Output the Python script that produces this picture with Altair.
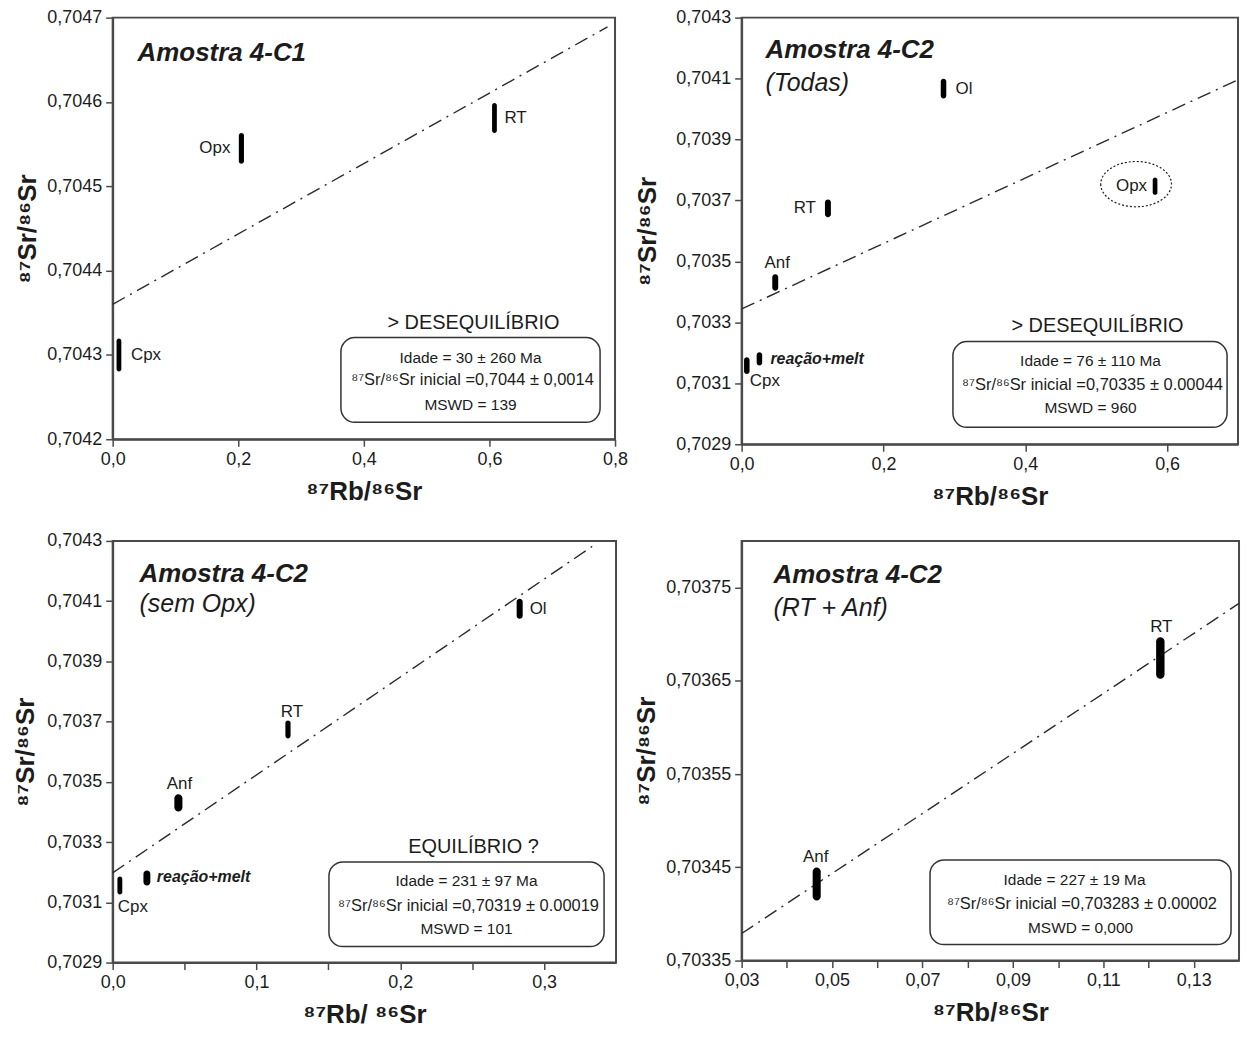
import altair as alt
import pandas as pd

FONT = "Liberation Sans"
AXC = "#4a4a4a"
INK = "#1c1c1c"

# ---------------- data ----------------
# Panel A: Amostra 4-C1
a_names = ["Cpx", "Opx", "RT"]
a_rb = [0.010, 0.205, 0.608]
a_sr = [0.70430, 0.704545, 0.704581]
a_rb_err = [0.0038, 0.0041, 0.0038]
a_sr_err = [0.0000195, 0.0000183, 0.0000177]
a_line_rb = [0.0, 0.788]
a_line_sr = [0.70436, 0.704689]
a_xticks = [0.0, 0.2, 0.4, 0.6, 0.8]
a_yticks = [0.7042, 0.7043, 0.7044, 0.7045, 0.7046, 0.7047]

# Panel B: Amostra 4-C2 (Todas)
b_names = ["Ol", "Opx", "RT", "Anf", "reação+melt", "Cpx"]
b_rb = [0.2847, 0.583, 0.1217, 0.0474, 0.0251, 0.0073]
b_sr = [0.704067, 0.703747, 0.703674, 0.703431, 0.703180, 0.703158]
b_rb_err = [0.0039, 0.0033, 0.0042, 0.0042, 0.0039, 0.0039]
b_sr_err = [0.0000327, 0.0000285, 0.0000294, 0.0000272, 0.0000219, 0.0000272]
b_line_rb = [0.0, 0.7]
b_line_sr = [0.703344, 0.704096]
b_xticks = [0.0, 0.2, 0.4, 0.6]
b_yticks = [0.7029, 0.7031, 0.7033, 0.7035, 0.7037, 0.7039, 0.7041, 0.7043]

# Panel C: Amostra 4-C2 (sem Opx)
c_names = ["Ol", "RT", "Anf", "reação+melt", "Cpx"]
c_rb = [0.283, 0.1219, 0.0457, 0.0238, 0.0050]
c_sr = [0.704075, 0.703674, 0.703430, 0.703181, 0.703156]
c_rb_err = [0.0021, 0.0018, 0.0028, 0.0024, 0.0017]
c_sr_err = [0.0000331, 0.0000298, 0.0000288, 0.0000248, 0.0000298]
c_line_rb = [0.0, 0.335]
c_line_sr = [0.703198, 0.704287]
c_xticks = [0.0, 0.05, 0.1, 0.15, 0.2, 0.25, 0.3]
c_yticks = [0.7029, 0.7031, 0.7033, 0.7035, 0.7037, 0.7039, 0.7041, 0.7043]

# Panel D: Amostra 4-C2 (RT + Anf)
d_names = ["Anf", "RT"]
d_rb = [0.0466, 0.1226]
d_sr = [0.703432, 0.7036745]
d_rb_err = [0.00089, 0.00093]
d_sr_err = [0.0000177, 0.0000222]
d_line_rb = [0.03, 0.14]
d_line_sr = [0.703379, 0.703733]
d_xticks = [0.03, 0.04, 0.05, 0.06, 0.07, 0.08, 0.09, 0.10, 0.11, 0.12, 0.13]
d_yticks = [0.70335, 0.70345, 0.70355, 0.70365, 0.70375]

YTITLE = "⁸⁷Sr/⁸⁶Sr"
ONE = alt.Data(values=[{}])
ELLIPSE = "M -1 0 A 1 0.64 0 1 0 1 0 A 1 0.64 0 1 0 -1 0 Z"


def fmt(decimals):
    return f"replace(format(datum.value, '.{decimals}f'), '.', ',')"


def txt(s, x, y, size=15.5, weight="normal", style="normal", align="center"):
    return alt.Chart(ONE).mark_text(
        text=s, font=FONT, fontSize=size, fontWeight=weight, fontStyle=style,
        align=align, baseline="middle", color=INK
    ).encode(x=alt.value(x), y=alt.value(y))


def box(x1, x2, y1, y2):
    return alt.Chart(ONE).mark_rect(
        cornerRadius=14, fill="white", stroke="#333333", strokeWidth=1.5
    ).encode(x=alt.value(x1), x2=alt.value(x2), y=alt.value(y1), y2=alt.value(y2))


def build(names, rb, sr, rb_err, sr_err, line_rb, line_sr, xdom, ydom,
          xticks, yticks, xexpr, yexpr, xtitle, w, h, y_ext, y_pad,
          label_specs, extras_fn):
    pts = pd.DataFrame({"name": names, "rb": rb, "sr": sr,
                        "rb_err": rb_err, "sr_err": sr_err})
    line = pd.DataFrame({"rb": line_rb, "sr": line_sr})
    xs = alt.Scale(domain=xdom, nice=False, zero=False)
    ys = alt.Scale(domain=ydom, nice=False, zero=False)
    xax = alt.Axis(values=xticks, labelExpr=xexpr, title=xtitle, labelFlush=False,
                   labelOverlap=False, grid=False)
    yax = alt.Axis(values=yticks, labelExpr=yexpr, title=YTITLE, labelOverlap=False,
                   grid=False, minExtent=y_ext, maxExtent=y_ext, titlePadding=y_pad)

    def X(f):
        return alt.X(f, type="quantitative", scale=xs, axis=xax)

    def Y(f):
        return alt.Y(f, type="quantitative", scale=ys, axis=yax)

    line_layer = alt.Chart(line).mark_line(
        strokeDash=[14, 6, 2, 6], color="#2a2a2a", strokeWidth=1.4
    ).encode(x=X("rb"), y=Y("sr"))

    ell = alt.Chart(pts).transform_calculate(
        x1="datum.rb - datum.rb_err", x2="datum.rb + datum.rb_err",
        y1="datum.sr - datum.sr_err", y2="datum.sr + datum.sr_err"
    ).mark_rect(cornerRadius=40, color="black").encode(
        x=X("x1"), x2="x2:Q", y=Y("y1"), y2="y2:Q")

    labs = []
    for name, dx, dy, align, emph in label_specs:
        labs.append(
            alt.Chart(pts).transform_filter(alt.datum.name == name).mark_text(
                dx=dx, dy=dy, align=align, baseline="middle", font=FONT,
                fontSize=16 if emph else 17,
                fontStyle="italic" if emph else "normal",
                fontWeight="bold" if emph else "normal", color=INK
            ).encode(x=X("rb"), y=Y("sr"), text="name:N")
        )
    extras = extras_fn(pts, X, Y)
    return alt.layer(line_layer, ell, *labs, *extras).properties(width=w, height=h)


def extras_a(pts, X, Y):
    return [
        txt("Amostra 4-C1", 25, 36, 26, "bold", "italic", "left"),
        txt("> DESEQUILÍBRIO", 362, 306, 20),
        box(229, 489, 321, 406),
        txt("Idade = 30 ± 260 Ma", 359, 341),
        txt("⁸⁷Sr/⁸⁶Sr inicial =0,7044 ± 0,0014", 361, 364, 16.5),
        txt("MSWD = 139", 359, 389),
    ]


def extras_b(pts, X, Y):
    circ = alt.Chart(pts).transform_filter(alt.datum.name == "Opx").mark_point(
        shape=ELLIPSE, size=5041, filled=False, stroke=INK, strokeWidth=1.2,
        strokeDash=[2, 2], xOffset=-19, yOffset=-2, opacity=1
    ).encode(x=X("rb"), y=Y("sr"))
    return [
        circ,
        txt("Amostra 4-C2", 24, 33, 26, "bold", "italic", "left"),
        txt("(Todas)", 24, 66, 25, "normal", "italic", "left"),
        txt("> DESEQUILÍBRIO", 357, 309, 20),
        box(212, 487, 325, 411),
        txt("Idade = 76 ± 110 Ma", 350, 345),
        txt("⁸⁷Sr/⁸⁶Sr inicial =0,70335 ± 0.00044", 352, 369, 16.5),
        txt("MSWD = 960", 350, 392),
    ]


def extras_c(pts, X, Y):
    return [
        txt("Amostra 4-C2", 27, 33, 26, "bold", "italic", "left"),
        txt("(sem Opx)", 27, 63, 25, "normal", "italic", "left"),
        txt("EQUILÍBRIO ?", 362, 307, 20),
        box(217, 493, 322, 407),
        txt("Idade = 231 ± 97 Ma", 355, 341),
        txt("⁸⁷Sr/⁸⁶Sr inicial =0,70319 ± 0.00019", 357, 366, 16.5),
        txt("MSWD = 101", 355, 389),
    ]


def extras_d(pts, X, Y):
    return [
        txt("Amostra 4-C2", 32, 34, 26, "bold", "italic", "left"),
        txt("(RT + Anf)", 32, 67, 25, "normal", "italic", "left"),
        box(189, 491, 320, 405),
        txt("Idade = 227 ± 19 Ma", 334, 340),
        txt("⁸⁷Sr/⁸⁶Sr inicial =0,703283 ± 0.00002", 206, 364, 16.5, align="left"),
        txt("MSWD = 0,000", 340, 388),
    ]


pA = build(a_names, a_rb, a_sr, a_rb_err, a_sr_err, a_line_rb, a_line_sr,
           [0.0, 0.8], [0.7042, 0.7047], a_xticks, a_yticks, fmt(1), fmt(4),
           "⁸⁷Rb/⁸⁶Sr", 504, 423, 62, 10,
           [("Cpx", 12, 0, "left", False), ("Opx", -11, 0, "right", False),
            ("RT", 10, 0, "left", False)], extras_a)

pB = build(b_names, b_rb, b_sr, b_rb_err, b_sr_err, b_line_rb, b_line_sr,
           [0.0, 0.7], [0.7029, 0.7043], b_xticks, b_yticks, fmt(1), fmt(4),
           "⁸⁷Rb/⁸⁶Sr", 498, 428, 62, 19,
           [("Ol", 12, 0, "left", False), ("Opx", -8, 0, "right", False),
            ("RT", -12, 0, "right", False), ("Anf", 2, -19, "center", False),
            ("reação+melt", 11, 0, "left", True), ("Cpx", 3, 15, "left", False)],
           extras_b)

c_xexpr = ("abs(datum.value*10 - round(datum.value*10)) < 0.001 ? "
           + fmt(1) + " : ''")
pC = build(c_names, c_rb, c_sr, c_rb_err, c_sr_err, c_line_rb, c_line_sr,
           [0.0, 0.35], [0.7029, 0.7043], c_xticks, c_yticks, c_xexpr, fmt(4),
           "⁸⁷Rb/ ⁸⁶Sr", 505, 423, 62, 12,
           [("Ol", 10, 0, "left", False), ("RT", 4, -18, "center", False),
            ("Anf", 1, -19, "center", False), ("reação+melt", 10, -1, "left", True),
            ("Cpx", -2, 22, "left", False)], extras_c)

d_xexpr = "round(datum.value*100) % 2 == 1 ? " + fmt(2) + " : ''"
pD = build(d_names, d_rb, d_sr, d_rb_err, d_sr_err, d_line_rb, d_line_sr,
           [0.03, 0.14], [0.70335, 0.7038], d_xticks, d_yticks, d_xexpr, fmt(5),
           "⁸⁷Rb/⁸⁶Sr", 499, 421, 70, 12,
           [("Anf", -1, -27, "center", False), ("RT", 1, -31, "center", False)],
           extras_d)

chart = alt.concat(
    pA, pB, pC, pD, columns=2, bounds="flush",
    spacing={"row": 97, "column": 126}
).properties(
    padding={"left": 4, "top": -2, "right": 0, "bottom": 0}
).configure_axis(
    labelFont=FONT, labelFontSize=18, labelColor=INK, labelPadding=4,
    titleFont=FONT, titleFontSize=26, titleFontWeight="bold", titleColor=INK,
    domainColor=AXC, domainWidth=2, tickColor=AXC, tickWidth=1.5, tickSize=7
).configure_axisX(titlePadding=10).configure_view(stroke=AXC, strokeWidth=2)

chart.save("out.html", embed_options={"renderer": "svg", "actions": False})
